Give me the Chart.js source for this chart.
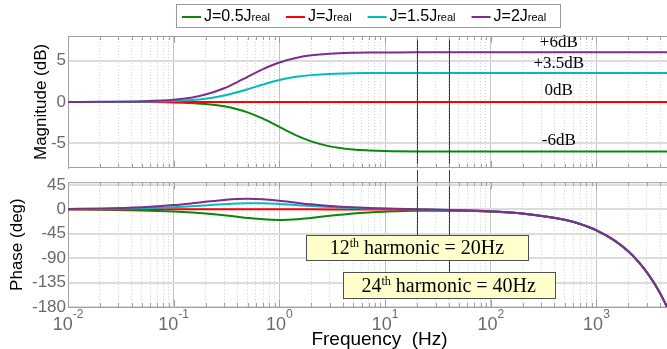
<!DOCTYPE html>
<html><head><meta charset="utf-8">
<script src="https://cdn.jsdelivr.net/npm/chart.js@4.4.1/dist/chart.umd.min.js"></script>
<style>
html,body{margin:0;padding:0;background:#fff;}
#wrap{position:relative;width:667px;height:349px;overflow:hidden;background:#fff;}
#c1{position:absolute;left:0;top:0;}
#c2{position:absolute;left:0;top:170px;}
</style></head><body>
<div id="wrap">
<canvas id="c2" width="667" height="179"></canvas>
<canvas id="c1" width="667" height="180"></canvas>
</div>
<script>
// ---------------- data ----------------
const frequencies = [0.01,0.02,0.05,0.1,0.15,0.2,0.3,0.4,0.5,0.7,1,1.5,2,3,5,7,10,20,50,100,200,500,700,1000,1500,2000,2500,3000,3500,4000,4300,4650];

const magJ05 = [0.00,0.00,-0.02,-0.07,-0.15,-0.25,-0.54,-0.89,-1.27,-2.04,-3.04,-4.16,-4.79,-5.40,-5.78,-5.89,-5.96,-6.01,-6.02,-6.02,-6.02,-6.02,-6.02,-6.02,-6.02,-6.02,-6.02,-6.02,-6.02,-6.02,-6.02,-6.02];
const magJ1  = [0,0,0,0,0,0,0,0,0,0,0,0,0,0,0,0,0,0,0,0,0,0,0,0,0,0,0,0,0,0,0,0];
const magJ15 = [0.00,0.00,0.03,0.11,0.23,0.39,0.77,1.17,1.53,2.11,2.65,3.07,3.25,3.40,3.48,3.50,3.51,3.52,3.52,3.52,3.52,3.52,3.52,3.52,3.52,3.52,3.52,3.52,3.52,3.52,3.52,3.52];
const magJ2  = [0.00,0.01,0.07,0.25,0.54,0.89,1.66,2.40,3.04,3.98,4.79,5.40,5.65,5.85,5.96,5.99,6.00,6.02,6.02,6.02,6.02,6.02,6.02,6.02,6.02,6.02,6.02,6.02,6.02,6.02,6.02,6.02];

const phaseJ05 = [-0.41,-0.82,-2.04,-4.04,-5.97,-7.82,-11.11,-13.79,-15.89,-18.43,-19.51,-18.07,-15.78,-12.01,-7.86,-5.87,-4.36,-2.77,-2.74,-4.27,-7.94,-19.43,-27.15,-38.74,-58.08,-77.43,-96.77,-116.1,-135.5,-154.8,-166.4,-180.0];
const phaseJ1  = [0,0,0,0,0,0,0,0,0,0,-0.04,-0.06,-0.08,-0.12,-0.19,-0.27,-0.39,-0.77,-1.94,-3.87,-7.74,-19.35,-27.09,-38.7,-58.05,-77.4,-96.75,-116.1,-135.45,-154.8,-166.4,-180.0];
const phaseJ15 = [0.41,0.82,2.03,3.96,5.73,7.25,9.54,10.86,11.43,11.30,9.93,7.68,6.08,4.17,2.45,1.63,0.94,-0.11,-1.67,-3.74,-7.67,-19.32,-27.07,-38.69,-58.04,-77.39,-96.74,-116.1,-135.45,-154.8,-166.4,-180.0];
const phaseJ2  = [0.82,1.63,4.04,7.82,11.11,13.79,17.40,19.07,19.47,18.43,15.66,11.83,9.28,6.36,3.78,2.58,1.61,0.23,-1.54,-3.67,-7.64,-19.31,-27.06,-38.68,-58.04,-77.39,-96.74,-116.1,-135.45,-154.8,-166.4,-180.0];

const legendMain = ['J=0.5J','J=J','J=1.5J','J=2J'];
const legendSub = 'real';

const magTicks = [-5,0,5];
const phaseTicks = [-180,-135,-90,-45,0,45];
const decadeTicks = [0.01,0.1,1,10,100,1000];
const decadeExponents = ['-2','-1','0','1','2','3'];
const minorMultipliers = [2,3,4,5,6,7,8,9];

const dbLabels = ['+6dB','+3.5dB','0dB','-6dB'];
const dbLabelLevels = [6.62, 4.15, 0.84, -5.2];
const dbLabelFreq = 440;

const harmonicFreqs = [20, 40];
const harmonicOrders = ['12','24'];
const harmonicSuffix = 'th';
const harmonicTexts = [' harmonic = 20Hz',' harmonic = 40Hz'];

// ---------------- style / layout ----------------
const X_MIN = 0.01, X_MAX = 4650;
const MAG_MIN = -8, MAG_MAX = 8;
const PH_MIN = -180, PH_MAX = 50;
const COLORS = ['#0a870a','#ff0000','#00bcbc','#7d2e8d'];
const FONT = '"Liberation Sans", Arial, Helvetica, sans-serif';
const SERIF = '"Liberation Serif", "Times New Roman", serif';
const AXIS_GRAY = '#a0a0a0';
const TICK_GRAY = '#6a6a6a';
const boxStyle = {
  top: [-47.5, -115.3], bottom: [-93.7, -162.6], padX: [24, 19]
};

function isDecade(v){ const l = Math.log10(v); return Math.abs(l - Math.round(l)) < 1e-6; }
const xTickValues = [];
decadeTicks.forEach(d => { [1].concat(minorMultipliers).forEach(m => { const v = +(d*m).toPrecision(6); if (v <= X_MAX) xTickValues.push(v); }); });

function pts(arr){ return frequencies.map((f,i)=>({x:f, y:arr[i]})); }

function xScaleCfg(){
  return {
    type:'logarithmic', min:X_MIN, max:X_MAX, bounds:'data',
    afterBuildTicks: s => { s.ticks = xTickValues.map(v => ({value:v, major:isDecade(v)})); },
    afterFit: s => { s.height = 0; },
    ticks:{display:false},
    grid:{display:true, drawTicks:false, lineWidth:1,
      color: c => (c.tick && isDecade(c.tick.value)) ? '#c4c4c4' : '#d2d2d2'},
    border:{display:true, color:AXIS_GRAY, width:1,
      dash: c => (c.tick && !isDecade(c.tick.value)) ? [1,2] : []}
  };
}
function yScaleCfg(min,max,ticks,title,titlePad){
  return {
    type:'linear', min:min, max:max, bounds:'data',
    afterBuildTicks: s => { s.ticks = ticks.map(v => ({value:v})); },
    afterFit: s => { s.width = 68; },
    ticks:{font:{family:FONT,size:17}, color:TICK_GRAY, padding:2},
    grid:{drawTicks:false, color:'#dcdcdc', lineWidth:2},
    border:{display:true, color:AXIS_GRAY, width:1},
    title:{display:true, text:title, font:{family:FONT,size:17}, color:'#000', padding:{top:titlePad,bottom:0}}
  };
}
function datasets(arrs){
  const order = [3,2,1,0];
  return arrs.map((a,i)=>({
    label: legendMain[i] + legendSub, data: pts(a), borderColor: COLORS[i], backgroundColor: COLORS[i],
    borderWidth: 2, pointRadius: 0, cubicInterpolationMode:'monotone', fill:false, order: order[i]
  }));
}

function drawFrameTicks(chart){
  const ctx = chart.ctx, a = chart.chartArea, xs = chart.scales.x;
  ctx.save();
  ctx.strokeStyle = AXIS_GRAY; ctx.lineWidth = 1;
  ctx.beginPath(); ctx.moveTo(a.left, a.top + 0.5); ctx.lineTo(a.right, a.top + 0.5); ctx.stroke();
  ctx.beginPath();
  xTickValues.forEach(v => {
    const px = Math.round(xs.getPixelForValue(v)) + 0.5;
    const len = isDecade(v) ? 7 : 4;
    ctx.moveTo(px, a.top); ctx.lineTo(px, a.top + len);
    ctx.moveTo(px, a.bottom); ctx.lineTo(px, a.bottom - len);
  });
  ctx.stroke();
  ctx.restore();
}

function drawLegend(chart){
  const ctx = chart.ctx, a = chart.chartArea;
  ctx.save();
  const mainF = '16px ' + FONT, subF = '11px ' + FONT;
  const lineLen = 19, gapLT = 3, itemGap = 16, padL = 6, padR = 14;
  const w = legendMain.map(m => { ctx.font = mainF; const p = ctx.measureText(m).width; ctx.font = subF; const q = ctx.measureText(legendSub).width; return [p,q]; });
  const total = padL + padR + w.reduce((s,v)=>s+lineLen+gapLT+v[0]+v[1],0) + itemGap*(w.length-1);
  const x0 = Math.round((a.left + a.right)/2 + 1 - total/2);
  const top = 4, bottom = 27;
  ctx.fillStyle = '#fff'; ctx.fillRect(x0, top, total, bottom-top);
  ctx.strokeStyle = '#9a9a9a'; ctx.lineWidth = 1; ctx.strokeRect(x0 + 0.5, top + 0.5, Math.round(total), bottom-top);
  let x = x0 + padL;
  w.forEach((v,i) => {
    ctx.strokeStyle = COLORS[i]; ctx.lineWidth = 2;
    ctx.beginPath(); ctx.moveTo(x, 17); ctx.lineTo(x + lineLen, 17); ctx.stroke();
    x += lineLen + gapLT;
    ctx.fillStyle = '#000'; ctx.textAlign = 'left'; ctx.textBaseline = 'alphabetic';
    ctx.font = mainF; ctx.fillText(legendMain[i], x, 21); x += v[0];
    ctx.font = subF; ctx.fillText(legendSub, x, 21); x += v[1];
    x += itemGap;
  });
  ctx.restore();
}

const magPlugin = {
  id:'magDeco',
  afterDatasetsDraw(chart){
    const ctx = chart.ctx, a = chart.chartArea, xs = chart.scales.x, ys = chart.scales.y;
    ctx.save();
    ctx.strokeStyle = '#3c3c3c'; ctx.lineWidth = 1;
    harmonicFreqs.forEach(f => {
      const px = Math.round(xs.getPixelForValue(f)) + 0.5;
      ctx.beginPath(); ctx.moveTo(px, a.top); ctx.lineTo(px, a.bottom); ctx.stroke();
    });
    ctx.fillStyle = '#000'; ctx.font = '17px ' + SERIF; ctx.textAlign = 'center'; ctx.textBaseline = 'alphabetic';
    const lx = xs.getPixelForValue(dbLabelFreq);
    dbLabels.forEach((t,i) => ctx.fillText(t, lx, ys.getPixelForValue(dbLabelLevels[i])));
    ctx.restore();
  },
  afterDraw(chart){ drawFrameTicks(chart); drawLegend(chart); }
};

const phasePlugin = {
  id:'phaseDeco',
  afterDatasetsDraw(chart){
    const ctx = chart.ctx, a = chart.chartArea, xs = chart.scales.x, ys = chart.scales.y;
    ctx.save();
    harmonicFreqs.forEach((f,i) => {
      const px = Math.round(xs.getPixelForValue(f)) + 0.5;
      const bt = Math.round(ys.getPixelForValue(boxStyle.top[i]));
      ctx.strokeStyle = '#3c3c3c'; ctx.lineWidth = 1;
      ctx.beginPath(); ctx.moveTo(px, 0); ctx.lineTo(px, bt); ctx.stroke();
    });
    harmonicFreqs.forEach((f,i) => {
      const cx = xs.getPixelForValue(f);
      const bt = Math.round(ys.getPixelForValue(boxStyle.top[i]));
      const bb = Math.round(ys.getPixelForValue(boxStyle.bottom[i]));
      const mainF = '20px ' + SERIF, supF = '12px ' + SERIF;
      ctx.font = mainF; const w1 = ctx.measureText(harmonicOrders[i]).width;
      const w3 = ctx.measureText(harmonicTexts[i]).width;
      ctx.font = supF; const w2 = ctx.measureText(harmonicSuffix).width;
      const tw = w1 + w2 + w3;
      const bw = Math.round(tw + 2*boxStyle.padX[i]);
      const bx = Math.round(cx - bw/2);
      ctx.fillStyle = '#ffffcc'; ctx.fillRect(bx, bt, bw, bb-bt);
      ctx.strokeStyle = '#505050'; ctx.lineWidth = 1; ctx.strokeRect(bx + 0.5, bt + 0.5, bw, bb-bt);
      let tx = cx - tw/2; const base = bb - 6;
      ctx.fillStyle = '#000'; ctx.textAlign = 'left'; ctx.textBaseline = 'alphabetic';
      ctx.font = mainF; ctx.fillText(harmonicOrders[i], tx, base); tx += w1;
      ctx.font = supF; ctx.fillText(harmonicSuffix, tx, base - 7); tx += w2;
      ctx.font = mainF; ctx.fillText(harmonicTexts[i], tx, base);
    });
    ctx.restore();
  },
  afterDraw(chart){
    drawFrameTicks(chart);
    const ctx = chart.ctx, a = chart.chartArea, xs = chart.scales.x;
    ctx.save();
    ctx.fillStyle = TICK_GRAY; ctx.textAlign = 'left'; ctx.textBaseline = 'alphabetic';
    decadeTicks.forEach((v,i) => {
      const px = xs.getPixelForValue(v);
      ctx.font = '18px ' + FONT; const wb = ctx.measureText('10').width;
      ctx.font = '12px ' + FONT; const we = ctx.measureText(decadeExponents[i]).width;
      const x0 = px - (wb + we)/2;
      ctx.font = '18px ' + FONT; ctx.fillText('10', x0, 160);
      ctx.font = '12px ' + FONT; ctx.fillText(decadeExponents[i], x0 + wb, 148);
    });
    ctx.fillStyle = '#000'; ctx.textAlign = 'center'; ctx.font = '19px ' + FONT;
    ctx.fillText('Frequency  (Hz)', (a.left + a.right)/2 + 12, 175);
    ctx.restore();
  }
};

const common = {
  responsive:false, animation:false, events:[],
  plugins:{legend:{display:false}, tooltip:{enabled:false}, title:{display:false}}
};

new Chart(document.getElementById('c1'), {
  type:'line',
  data:{datasets: datasets([magJ05, magJ1, magJ15, magJ2])},
  options:Object.assign({}, common, {
    layout:{padding:{top:36, bottom:4, left:0, right:0}},
    scales:{x:xScaleCfg(), y:yScaleCfg(MAG_MIN, MAG_MAX, magTicks, 'Magnitude (dB)', 31)}
  }),
  plugins:[magPlugin]
});

new Chart(document.getElementById('c2'), {
  type:'line',
  data:{datasets: datasets([phaseJ05, phaseJ1, phaseJ15, phaseJ2])},
  options:Object.assign({}, common, {
    layout:{padding:{top:12, bottom:42, left:0, right:0}},
    scales:{x:xScaleCfg(), y:yScaleCfg(PH_MIN, PH_MAX, phaseTicks, 'Phase (deg)', 7)}
  }),
  plugins:[phasePlugin]
});
</script>
</body></html>
